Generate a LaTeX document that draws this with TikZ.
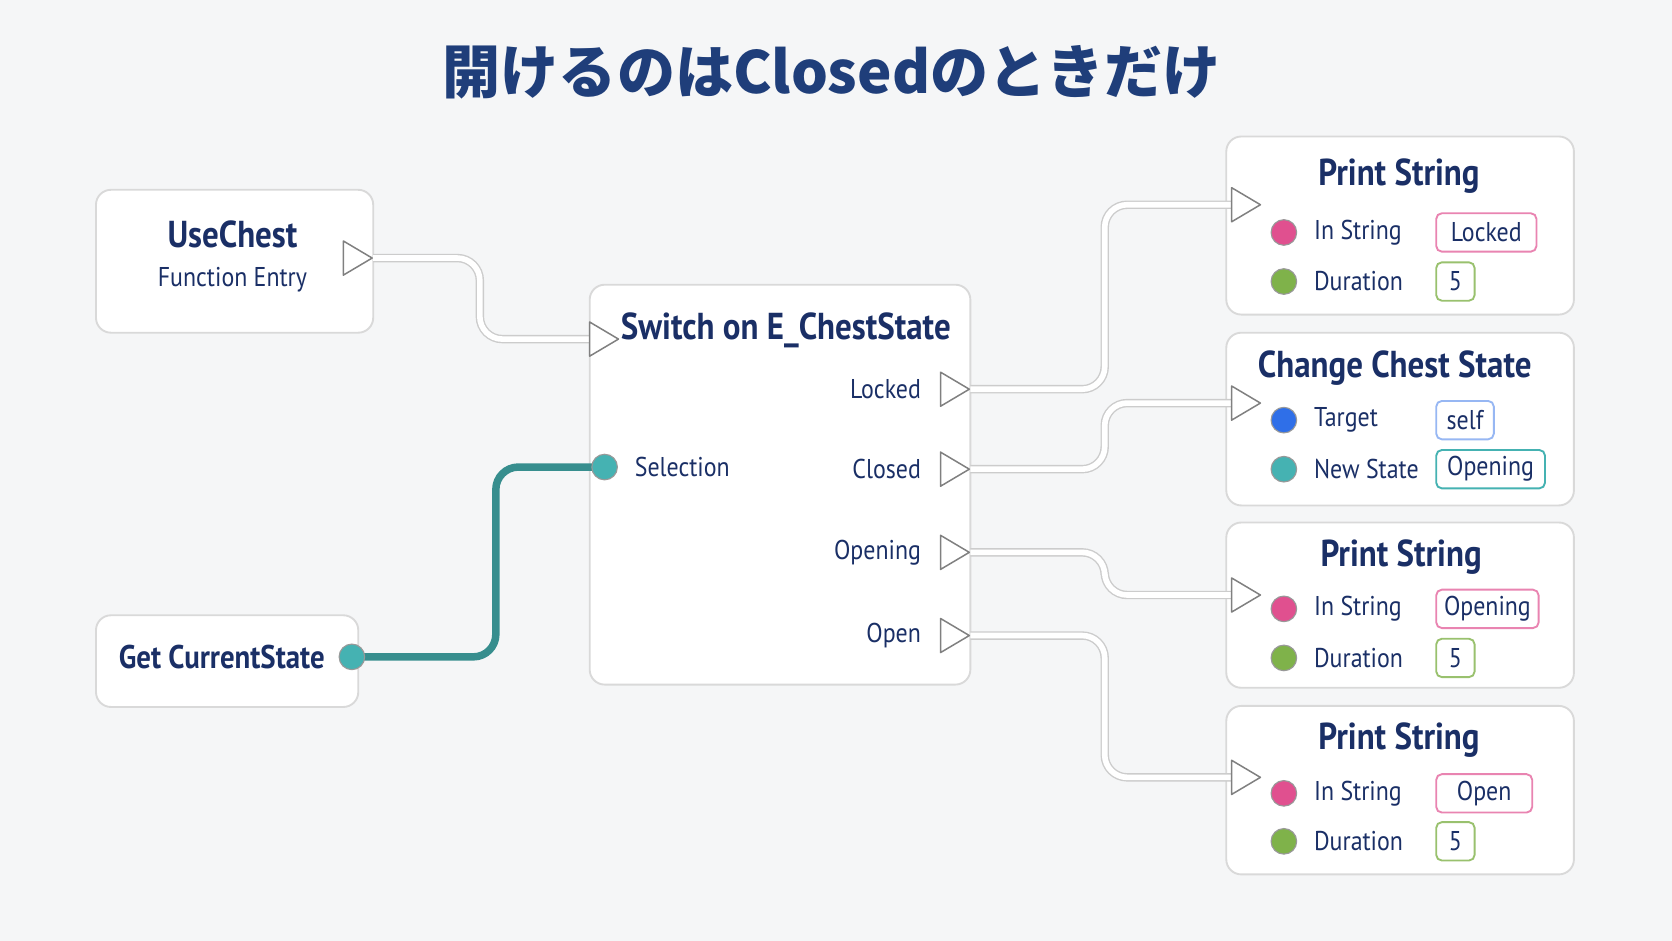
\documentclass[tikz,border=0pt]{standalone}
\usepackage{fontspec}
\setmainfont[FakeStretch=0.88]{PT Sans}
\newfontfamily\cjk{Noto Sans CJK JP}
\begin{document}
\begin{tikzpicture}[x=0.02cm,y=-0.02cm,
 box/.style={draw=black!15,line width=1pt,fill=white,rounded corners=8pt},
 exec/.style={draw=black!50,fill=white,line width=0.8pt},
 wire/.style={draw=black!20,line width=4.5pt,rounded corners=12pt},
 wirein/.style={draw=white,line width=3pt,rounded corners=12pt},
 lbl/.style={font=\fontsize{14.5}{17}\selectfont,text=ink,inner sep=0},
 ttl/.style={font=\bfseries\fontsize{20}{23}\selectfont,text=ink,inner sep=0},
 val/.style={draw,rounded corners=3pt,line width=1pt,minimum height=36*0.02cm,font=\fontsize{14.5}{17}\selectfont,text=ink,inner sep=3pt},
 pin/.style={circle,draw=black!40,line width=0.6pt,minimum size=24*0.02cm,inner sep=0}]
\definecolor{bg}{HTML}{F5F6F7}\definecolor{tl}{HTML}{45B2B2}\definecolor{pk}{HTML}{E0508F}\definecolor{gn}{HTML}{7FB24A}\definecolor{bl}{HTML}{2F6FE8}
\definecolor{ink}{HTML}{1A2F66}\definecolor{tink}{HTML}{1F3E7A}
\fill[bg] (0,0) rectangle (1568,882);
\node[font=\cjk\bfseries\fontsize{31}{36}\selectfont,text=tink] (title) at (780,68) {開けるのはClosedのときだけ};
% boxes
\draw[box] (90,178) rectangle (350,312);
\node[ttl] (uc) at (218,220) {UseChest};
\node[lbl] (fe) at (218,262) {Function Entry};
\draw[box] (90,577) rectangle (336,663);
\node[ttl,font=\bfseries\fontsize{17.5}{20}\selectfont] (gcs) at (208,616) {Get CurrentState};
\draw[box] (553,267) rectangle (910,642);
\node[ttl] (sw) at (737,310) {Switch on E\_ChestState};
\foreach \y/\t in {128/295,312/474,490/645,662/820}\draw[box] (1150,\y) rectangle (1476,\t);
% wires
\foreach \a/\b/\c/\d/\e in {350/242/450/318/553,910/365/1036/192/1155,910/440/1036/378/1155,910/518/1036/558/1155,910/596/1036/729/1155}{
 \draw[wire] (\a,\b) -| (\c,\d) -- (\e,\d);
 \draw[wirein] (\a,\b) -| (\c,\d) -- (\e,\d);}
\draw[tl!80!black,line width=4pt,rounded corners=12pt] (330,616) -| (465,438) -- (567,438);
% exec triangles
\foreach \x/\y in {322/242,553/318,882/365,882/440,882/518,882/596,1155/192,1155/378,1155/558,1155/729}
 \draw[exec,line join=round] (\x,\y-16) -- (\x+27,\y) -- (\x,\y+16) -- cycle;
\node[pin,fill=tl] (gp) at (330,616) {};
\node[pin,fill=tl] (sel) at (567,438) {};
\node[lbl,anchor=west] (sell) at (595,438) {Selection};
\foreach \y/\t [count=\i] in {365/Locked,440/Closed,518/Opening,596/Open}\node[lbl,anchor=east] (o\i) at (864,\y) {\t};
% right nodes
\node[ttl] (p1) at (1312,165) {Print String};
\node[ttl] (cc) at (1308,345) {Change Chest State};
\node[ttl] (p2) at (1314,522) {Print String};
\node[ttl] (p3) at (1312,694) {Print String};
\foreach \ya/\yb/\v/\w [count=\i] in {218/264/Locked/94,571/617/Opening/96,744/789/Open/90}{
 \node[pin,fill=pk] (a\i) at (1204,\ya) {}; \node[lbl,anchor=west] at (1232,\ya) {In String};
 \node[val,draw=pk!70,minimum width=\w*0.02cm,anchor=west] at (1346,\ya) {\v};
 \node[pin,fill=gn] (b\i) at (1204,\yb) {}; \node[lbl,anchor=west] at (1232,\yb) {Duration};
 \node[val,draw=gn!80,minimum width=36*0.02cm,anchor=west] at (1346,\yb) {5};}
\node[pin,fill=bl] (tg) at (1204,394) {}; \node[lbl,anchor=west] at (1232,394) {Target};
\node[val,draw=bl!50,minimum width=54*0.02cm,anchor=west] at (1346,394) {self};
\node[pin,fill=tl] (ns) at (1204,440) {}; \node[lbl,anchor=west] at (1232,440) {New State};
\node[val,draw=tl,minimum width=102*0.02cm,anchor=west] at (1346,440) {Opening};
\end{tikzpicture}
\end{document}
